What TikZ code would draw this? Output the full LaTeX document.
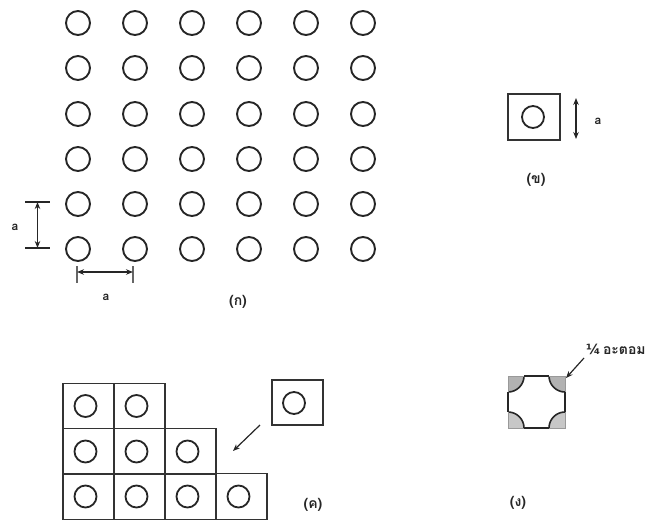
\documentclass[tikz,border=0pt]{standalone}
\usepackage{fontspec}
\newfontfamily\thaifont[Script=Thai]{Loma}
\newfontfamily\fracfont{DejaVu Sans}
\usetikzlibrary{arrows.meta,calc}
\begin{document}
\begin{tikzpicture}[x=1pt,y=-1pt,
  >={Stealth[length=7pt,width=5.5pt]},
  atom/.style={draw=black!85,line width=1.9pt,circle,minimum size=24pt,inner sep=0pt},
  catom/.style={draw=black!85,line width=1.8pt,circle,minimum size=22pt,inner sep=0pt},
  cell/.style={draw=black!80,line width=1.2pt,rectangle,inner sep=0pt},
  lbl/.style={font=\thaifont\bfseries\fontsize{14}{16}\selectfont,inner sep=1pt,text=black!85},
  albl/.style={font=\thaifont\bfseries\fontsize{12}{13}\selectfont,inner sep=1pt,text=black!85},
  dim/.style={line width=1.2pt,black!85},
  tickline/.style={line width=1.6pt,black!85}]
\useasboundingbox (0,0) rectangle (655,522);

% (ก) lattice
\foreach \c/\x in {1/78,2/135,3/192,4/249,5/306,6/363}{
  \foreach \r/\y in {1/23,2/68,3/114,4/159,5/204,6/249}{
    \node[atom] (g\r\c) at (\x,\y) {};
  }
}
% vertical dimension
\coordinate (vt1) at (25,202); \coordinate (vt2) at (50,202);
\coordinate (vb1) at (25,248); \coordinate (vb2) at (50,248);
\draw[tickline] (vt1) -- (vt2);
\draw[tickline] (vb1) -- (vb2);
\coordinate (vtop) at (37.5,202); \coordinate (vbot) at (37.5,248);
\draw[dim,<->] (vtop) -- (vbot);
\node[albl] (av) at (15,227) {a};
% horizontal dimension
\coordinate (hl1) at (77,266); \coordinate (hl2) at (77,283);
\coordinate (hr1) at (133,266); \coordinate (hr2) at (133,283);
\draw[dim,black!60] (hl1) -- (hl2);
\draw[dim,black!60] (hr1) -- (hr2);
\coordinate (hl) at (77,272); \coordinate (hr) at (133,272);
\draw[dim,<->] (hl) -- (hr);
\node[albl] (ah) at (106,297) {a};
\node[lbl] (lk) at (238,302) {(ก)};

% (ข) unit cell
\node[cell,minimum width=52pt,minimum height=46pt] (bcell) at (534,117) {};
\node[catom] (batom) at (533,117) {};
\coordinate (bt) at (576,98); \coordinate (bb) at (576,139);
\draw[dim,<->] (bt) -- (bb);
\node[albl] (ab) at (598,121) {a};
\node[lbl] (lb) at (536,180) {(ข)};

% (ค) stacking
\foreach \r/\y/\n in {1/406/2,2/451.5/3,3/496.5/4}{
  \foreach \c in {1,...,\n}{
    \pgfmathsetmacro{\xx}{63+51*(\c-1)+25.5}
    \node[cell,minimum width=51pt,minimum height=45.5pt] (k\r\c) at (\xx,\y) {};
    \node[catom] (ka\r\c) at (\xx-3,\y) {};
  }
}
\node[cell,minimum width=51pt,minimum height=45pt] (kfree) at (297.5,402.5) {};
\node[catom] (kfa) at (294,403) {};
\coordinate (kst) at (260,425);
\coordinate (karr) at (233,451);
\draw[line width=1.2pt,black!85,->] (kst) -- (karr);
\node[lbl] (lc) at (313,505) {(ค)};

% (ง) corner quarters
\def\R{16}
\coordinate (dA) at (508,376);
\coordinate (dB) at (565,376);
\coordinate (dC) at (565,428);
\coordinate (dD) at (508,428);
\begin{scope}
  \clip (dA) rectangle (dC);
  \fill[black!30] (dA) circle[radius=\R];
  \fill[black!30] (dB) circle[radius=\R];
  \fill[black!22] (dC) circle[radius=\R];
  \fill[black!22] (dD) circle[radius=\R];
  \draw[black!85,line width=1.6pt] (dA) circle[radius=\R];
  \draw[black!85,line width=1.6pt] (dB) circle[radius=\R];
  \draw[black!85,line width=1.6pt] (dC) circle[radius=\R];
  \draw[black!85,line width=1.6pt] (dD) circle[radius=\R];
\end{scope}
\draw[black!40,line width=0.8pt] (dA) rectangle (dC);
\draw[black!85,line width=1.2pt] ($(dA)+(\R,0)$) -- ($(dB)+(-\R,0)$);
\draw[black!85,line width=1.2pt] ($(dD)+(\R,0)$) -- ($(dC)+(-\R,0)$);
\draw[black!85,line width=1.2pt] ($(dA)+(0,\R)$) -- ($(dD)+(0,-\R)$);
\draw[black!85,line width=1.2pt] ($(dB)+(0,\R)$) -- ($(dC)+(0,-\R)$);
\node[lbl,anchor=west] (qlab) at (585,349) {{\fracfont\fontsize{14}{14}\selectfont ¼}\,อะตอม};
\coordinate (qst) at (584,358);
\coordinate (qtip) at (566,378);
\draw[line width=1.2pt,black!85,->] (qst) -- (qtip);
\node[lbl] (ld) at (518,503) {(ง)};
\end{tikzpicture}
\end{document}
